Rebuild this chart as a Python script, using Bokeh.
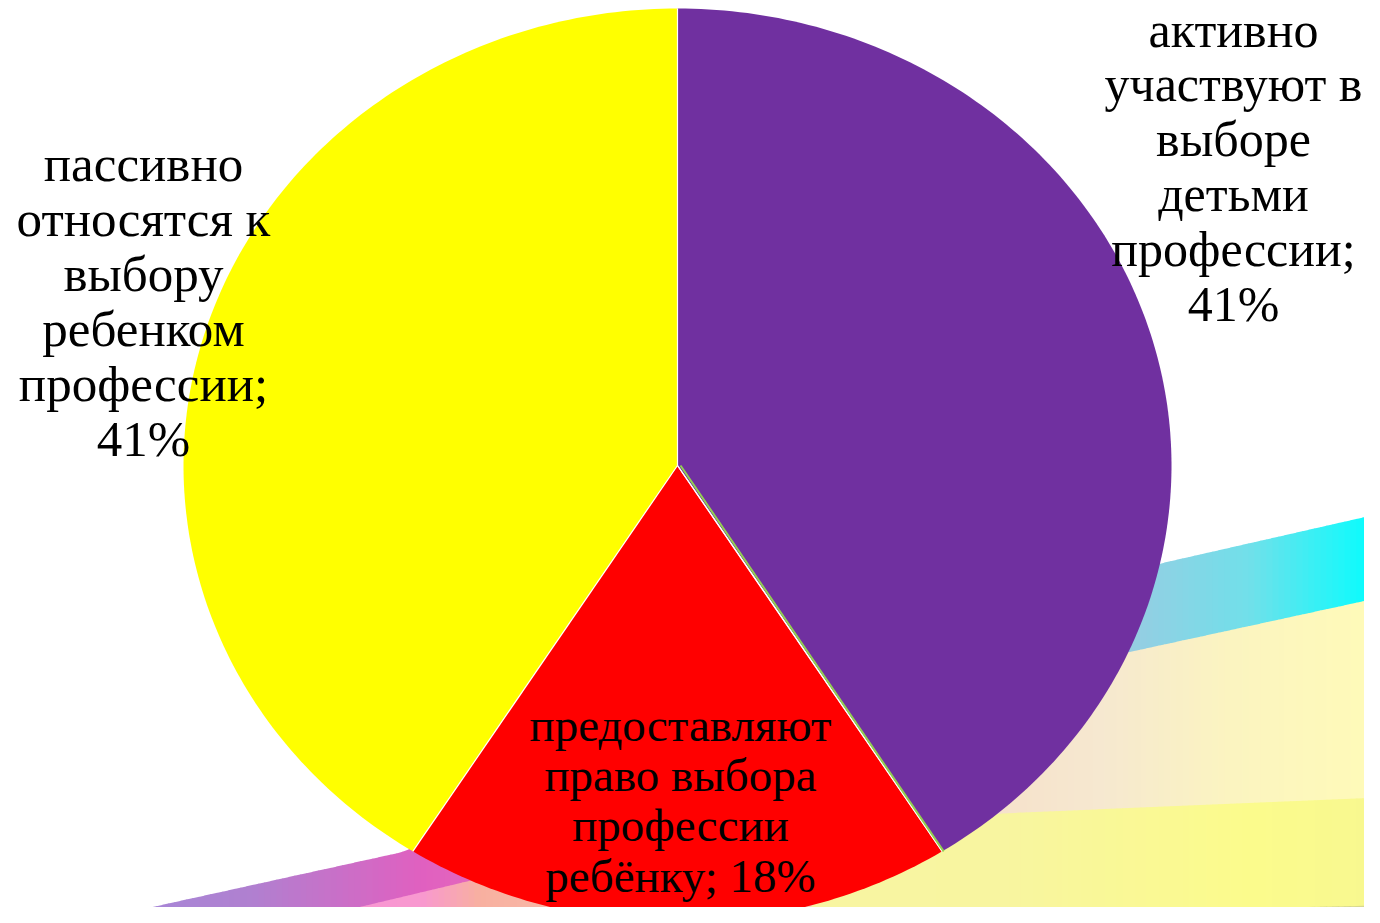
import textwrap
import numpy as np
from bokeh.plotting import figure
from bokeh.models import Range1d, ColumnDataSource
from bokeh.core.properties import value
from bokeh.embed import file_html
from bokeh.resources import INLINE

# ---------------- data ----------------
categories = [
    "активно участвуют в выборе детьми профессии",
    "",
    "предоставляют право выбора профессии ребёнку",
    "пассивно относятся к выбору ребенком профессии",
]
values = [41, 0, 18, 41]
colors = ["#7030A0", "#92D050", "#FF0000", "#FFFF00"]

# ---------------- layout ----------------
W, H = 1364, 907
CX, CY, RX, RY = 677.0, 465.0, 494.0, 457.0
# label anchor: (center x, first baseline y, font px, line spacing, wrap width)
label_layout = [
    (1233, 29, 50, 54.8, 12),
    None,
    (680, 724, 47, 50.4, 13),
    (143, 163, 51, 55.0, 12),
]

p = figure(width=W, height=H, x_range=Range1d(0, W), y_range=Range1d(H, 0),
           output_backend="svg", toolbar_location=None, min_border=0,
           x_axis_location=None, y_axis_location=None)
p.grid.visible = False
p.outline_line_color = None
p.background_fill_color = "white"
p.border_fill_color = "white"


# ---------------- decorative background swoosh ----------------
def hex2rgb(h):
    h = h.lstrip("#")
    return np.array([int(h[i:i + 2], 16) for i in (0, 2, 4)], float)


def color_at(stops, x):
    xs = [s[0] for s in stops]
    cs = np.array([hex2rgb(s[1]) for s in stops])
    r = [np.interp(x, xs, cs[:, k]) for k in range(3)]
    return "#%02x%02x%02x" % tuple(int(round(v)) for v in r)


def band(top_pts, stops, step=6):
    tx = [q[0] for q in top_pts]
    ty = [q[1] for q in top_pts]
    xs_l, ys_l, cols = [], [], []
    for x0 in np.arange(0, 1390, step):
        x1 = x0 + step + 0.8
        y0, y1 = np.interp(x0, tx, ty), np.interp(x1, tx, ty)
        xs_l.append([x0, x1, x1, x0])
        ys_l.append([y0, y1, 940, 940])
        cols.append(color_at(stops, x0 + step / 2))
    p.patches(xs_l, ys_l, fill_color=cols, line_color=None)


band([(-20, 965), (77, 923), (400, 852), (800, 700), (1160, 563), (1380, 513), (1400, 508)],
     [(0, "#9A90E0"), (250, "#B080D0"), (420, "#E060C0"), (700, "#F080B0"),
      (1100, "#A0C8E0"), (1250, "#70E0EA"), (1380, "#00FFFF")])
band([(150, 960), (290, 923), (500, 873), (1127, 652), (1380, 597), (1400, 592)],
     [(0, "#F890D8"), (420, "#F898D0"), (480, "#F8B0A0"), (900, "#F6DCC6"),
      (1100, "#F6E8D0"), (1230, "#FBF4C0"), (1380, "#FFFBB8")])
band([(-20, 1000), (700, 1000), (900, 830), (1000, 813), (1380, 797), (1400, 796)],
     [(0, "#F8F5A8"), (1000, "#F8F5A0"), (1250, "#FBFB8C"), (1380, "#F8F890")])
band([(-20, 1000), (700, 1000), (820, 912), (1140, 910), (1380, 905), (1400, 905)],
     [(0, "#C8E080"), (1100, "#C8E080"), (1300, "#D8D890"), (1380, "#D8D890")])

# ---------------- pie (elliptical) ----------------
total = float(sum(values))
bounds = np.concatenate([[0.0], np.cumsum(values) / total]) * 2 * np.pi  # clockwise from top

slice_xs, slice_ys, slice_cols = [], [], []
zero_angles = []
for i, v in enumerate(values):
    t0, t1 = bounds[i], bounds[i + 1]
    if v <= 0:
        zero_angles.append((t0, colors[i]))
        continue
    n = max(8, int(400 * (t1 - t0) / (2 * np.pi)))
    t = np.linspace(t0, t1, n)
    slice_xs.append(np.concatenate([[CX], CX + RX * np.sin(t)]).tolist())
    slice_ys.append(np.concatenate([[CY], CY - RY * np.cos(t)]).tolist())
    slice_cols.append(colors[i])

p.patches(slice_xs, slice_ys, fill_color=slice_cols, line_color=None)

# slice separators
sep = bounds[:-1]
p.segment(x0=[CX] * len(sep), y0=[CY] * len(sep),
          x1=(CX + RX * np.sin(sep)).tolist(), y1=(CY - RY * np.cos(sep)).tolist(),
          line_color="white", line_width=1.2)
for t, c in zero_angles:
    p.segment(x0=[CX + 3], y0=[CY], x1=[CX + RX * np.sin(t) + 1.5], y1=[CY - RY * np.cos(t)],
              line_color=c, line_width=2)

# ---------------- labels ----------------
lx, ly, lt, lsz = [], [], [], []
for cat, v, lay in zip(categories, values, label_layout):
    if lay is None or not cat:
        continue
    x, y0, fs, sp, wrap = lay
    lines = textwrap.wrap(f"{cat}; {v}%", width=wrap)
    for k, line in enumerate(lines):
        lx.append(x)
        ly.append(y0 + k * sp)
        lt.append(line)
        lsz.append(f"{fs}px")

src = ColumnDataSource(dict(x=lx, y=ly, text=lt, size=lsz))
p.text(x="x", y="y", text="text", source=src, text_font=value("Liberation Serif"),
       text_font_size="size", text_align="center", text_baseline="alphabetic",
       text_color="black")

open("out.html", "w").write(file_html(p, INLINE))
